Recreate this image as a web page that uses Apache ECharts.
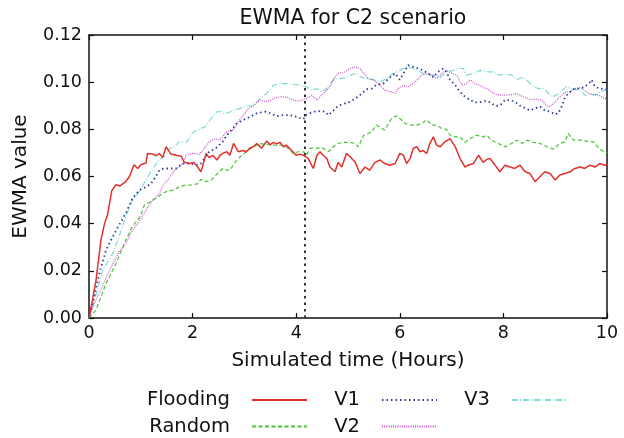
<!DOCTYPE html>
<html>
<head>
<meta charset="utf-8">
<script src="https://cdn.jsdelivr.net/npm/echarts@6/dist/echarts.min.js"></script>
<style>html,body{margin:0;padding:0;background:#fff}#c{width:624px;height:438px}</style>
</head>
<body>
<div id="c"></div>
<script>
const titleText = 'EWMA for C2 scenario';
const xName = 'Simulated time (Hours)';
const yName = 'EWMA value';
const seriesNames = ['Flooding', 'Random', 'V1', 'V2', 'V3'];
const markerTime = 4.17;

const flooding = [[0,0],[0.07,0.008],[0.135,0.016],[0.23,0.033],[0.3,0.040],[0.36,0.044],[0.44,0.054],[0.52,0.0565],[0.6,0.056],[0.71,0.0578],[0.78,0.060],[0.87,0.065],[0.94,0.0634],[1.0,0.065],[1.1,0.0657],[1.13,0.0698],[1.23,0.0695],[1.3,0.0688],[1.36,0.0698],[1.42,0.068],[1.49,0.0726],[1.58,0.0695],[1.68,0.069],[1.78,0.0686],[1.84,0.066],[1.94,0.0655],[2.02,0.066],[2.1,0.064],[2.16,0.062],[2.19,0.064],[2.26,0.0698],[2.32,0.068],[2.39,0.069],[2.47,0.067],[2.53,0.069],[2.58,0.0698],[2.66,0.0705],[2.72,0.069],[2.79,0.074],[2.88,0.0705],[2.98,0.071],[3.04,0.0705],[3.1,0.072],[3.17,0.0726],[3.24,0.074],[3.33,0.072],[3.43,0.075],[3.5,0.0735],[3.56,0.0745],[3.62,0.0738],[3.69,0.0745],[3.75,0.0726],[3.81,0.0733],[3.91,0.071],[4.0,0.069],[4.07,0.0695],[4.14,0.069],[4.23,0.0677],[4.33,0.0634],[4.40,0.069],[4.46,0.0705],[4.52,0.069],[4.59,0.0677],[4.65,0.064],[4.75,0.062],[4.81,0.066],[4.88,0.064],[4.97,0.0698],[5.04,0.0684],[5.14,0.066],[5.23,0.0613],[5.33,0.064],[5.42,0.0627],[5.52,0.066],[5.62,0.067],[5.71,0.0655],[5.81,0.0648],[5.91,0.0655],[6.0,0.0698],[6.07,0.069],[6.13,0.0655],[6.2,0.0677],[6.26,0.072],[6.33,0.0726],[6.39,0.0705],[6.45,0.071],[6.52,0.0698],[6.58,0.074],[6.65,0.0768],[6.71,0.0733],[6.78,0.0726],[6.87,0.0747],[6.97,0.0761],[7.07,0.0726],[7.16,0.0677],[7.26,0.064],[7.32,0.0648],[7.42,0.0655],[7.52,0.069],[7.61,0.066],[7.68,0.0672],[7.74,0.0677],[7.84,0.0648],[7.93,0.062],[8.03,0.0648],[8.13,0.064],[8.22,0.0634],[8.32,0.0648],[8.42,0.062],[8.51,0.0613],[8.61,0.0578],[8.71,0.060],[8.80,0.062],[8.9,0.0613],[9.0,0.0585],[9.09,0.0606],[9.19,0.0613],[9.29,0.062],[9.38,0.0634],[9.48,0.064],[9.57,0.0634],[9.67,0.0648],[9.77,0.064],[9.86,0.0655],[9.96,0.0648],[10,0.065]];

const random = [[0,0],[0.135,0.0034],[0.33,0.0147],[0.52,0.023],[0.71,0.033],[0.84,0.039],[0.94,0.0415],[1.0,0.0436],[1.07,0.048],[1.16,0.049],[1.29,0.0507],[1.42,0.0528],[1.49,0.0536],[1.62,0.0542],[1.74,0.0556],[1.87,0.0564],[2.0,0.0564],[2.1,0.057],[2.16,0.0588],[2.26,0.0578],[2.36,0.0585],[2.45,0.0606],[2.58,0.0634],[2.65,0.0627],[2.72,0.0627],[2.82,0.066],[2.92,0.0684],[3.04,0.0705],[3.17,0.0726],[3.3,0.074],[3.43,0.0735],[3.59,0.0733],[3.72,0.0733],[3.85,0.072],[3.94,0.0698],[4.04,0.0705],[4.14,0.0705],[4.2,0.069],[4.27,0.072],[4.4,0.072],[4.52,0.072],[4.62,0.0705],[4.72,0.0726],[4.81,0.074],[4.91,0.0745],[5.04,0.0745],[5.14,0.074],[5.2,0.0726],[5.3,0.0775],[5.39,0.0782],[5.46,0.079],[5.55,0.0818],[5.65,0.0804],[5.71,0.0797],[5.84,0.0846],[5.94,0.0857],[6.0,0.0846],[6.1,0.0825],[6.2,0.0818],[6.33,0.0818],[6.42,0.0825],[6.52,0.084],[6.62,0.0818],[6.71,0.0818],[6.81,0.0804],[6.9,0.080],[6.97,0.0775],[7.07,0.0768],[7.16,0.0768],[7.26,0.0745],[7.36,0.0761],[7.48,0.0775],[7.61,0.0768],[7.68,0.0775],[7.77,0.0754],[7.9,0.074],[8.03,0.0726],[8.16,0.074],[8.26,0.0754],[8.36,0.074],[8.45,0.0754],[8.58,0.0745],[8.71,0.074],[8.84,0.0726],[8.97,0.0716],[9.09,0.074],[9.19,0.0747],[9.25,0.0782],[9.35,0.0754],[9.48,0.0754],[9.61,0.075],[9.74,0.0747],[9.84,0.072],[9.96,0.0702],[10,0.070]];

const v1 = [[0,0],[0.1,0.009],[0.2,0.019],[0.33,0.0288],[0.46,0.0345],[0.58,0.0394],[0.71,0.0444],[0.84,0.0507],[0.97,0.0542],[1.1,0.0556],[1.2,0.057],[1.29,0.060],[1.36,0.0627],[1.45,0.0634],[1.55,0.0634],[1.68,0.0634],[1.81,0.0655],[1.94,0.0655],[2.07,0.0648],[2.16,0.0655],[2.23,0.0677],[2.32,0.0705],[2.45,0.072],[2.58,0.0747],[2.66,0.0775],[2.75,0.0797],[2.85,0.0825],[2.98,0.084],[3.11,0.0853],[3.24,0.0868],[3.4,0.0875],[3.5,0.0868],[3.62,0.0856],[3.75,0.086],[3.88,0.086],[4.01,0.0853],[4.14,0.0843],[4.2,0.0863],[4.33,0.0875],[4.46,0.0877],[4.56,0.0875],[4.62,0.086],[4.72,0.088],[4.81,0.090],[4.94,0.091],[5.04,0.0917],[5.14,0.093],[5.23,0.0945],[5.36,0.097],[5.46,0.0973],[5.55,0.099],[5.68,0.0994],[5.81,0.102],[5.91,0.1037],[6.0,0.101],[6.07,0.1037],[6.16,0.1072],[6.26,0.1065],[6.36,0.1058],[6.45,0.105],[6.55,0.1037],[6.65,0.102],[6.74,0.1044],[6.84,0.1058],[6.9,0.1044],[6.97,0.101],[7.07,0.0987],[7.16,0.0959],[7.26,0.0938],[7.36,0.0924],[7.45,0.0914],[7.55,0.0915],[7.64,0.092],[7.74,0.0915],[7.84,0.090],[7.93,0.090],[8.03,0.0924],[8.13,0.0924],[8.22,0.0917],[8.32,0.090],[8.42,0.089],[8.51,0.088],[8.61,0.0889],[8.71,0.0896],[8.8,0.088],[8.9,0.0875],[9.0,0.0863],[9.06,0.0868],[9.13,0.090],[9.19,0.0938],[9.29,0.0959],[9.38,0.0973],[9.48,0.0973],[9.57,0.098],[9.67,0.100],[9.7,0.101],[9.77,0.098],[9.86,0.0973],[9.96,0.097],[10,0.0968]];

const v2 = [[0,0],[0.1,0.006],[0.25,0.013],[0.35,0.018],[0.46,0.023],[0.58,0.028],[0.71,0.0316],[0.84,0.0373],[0.97,0.0408],[1.1,0.0458],[1.23,0.050],[1.36,0.0528],[1.45,0.057],[1.55,0.0592],[1.65,0.0627],[1.81,0.0655],[1.87,0.069],[2.0,0.0698],[2.13,0.0695],[2.23,0.072],[2.32,0.0747],[2.45,0.076],[2.53,0.0756],[2.66,0.079],[2.79,0.0797],[2.88,0.0832],[2.98,0.086],[3.08,0.0889],[3.17,0.090],[3.3,0.0924],[3.43,0.0917],[3.56,0.093],[3.69,0.0938],[3.81,0.0938],[3.94,0.0924],[4.07,0.092],[4.2,0.093],[4.3,0.0945],[4.4,0.0924],[4.49,0.0945],[4.59,0.0966],[4.65,0.098],[4.72,0.1015],[4.81,0.1037],[4.94,0.1044],[5.04,0.1058],[5.14,0.1065],[5.23,0.1058],[5.33,0.103],[5.39,0.1015],[5.49,0.101],[5.62,0.0987],[5.71,0.0966],[5.84,0.0959],[5.91,0.0952],[5.97,0.0973],[6.07,0.0987],[6.16,0.098],[6.26,0.0994],[6.36,0.1015],[6.42,0.103],[6.52,0.1037],[6.62,0.103],[6.71,0.1015],[6.81,0.1037],[6.9,0.105],[7.0,0.1037],[7.1,0.103],[7.2,0.0987],[7.29,0.0994],[7.36,0.101],[7.45,0.0994],[7.55,0.0985],[7.64,0.0975],[7.68,0.0973],[7.81,0.0952],[7.93,0.0945],[8.06,0.0945],[8.19,0.0948],[8.26,0.0952],[8.39,0.0938],[8.51,0.0927],[8.64,0.0927],[8.74,0.0924],[8.84,0.090],[8.9,0.0896],[9.0,0.0917],[9.09,0.0938],[9.19,0.0956],[9.29,0.096],[9.38,0.0973],[9.48,0.0976],[9.57,0.0966],[9.64,0.0952],[9.74,0.0948],[9.84,0.0945],[9.96,0.093],[10,0.093]];

const v3 = [[0,0],[0.1,0.007],[0.26,0.020],[0.46,0.0274],[0.58,0.0345],[0.71,0.043],[0.84,0.050],[0.97,0.0536],[1.1,0.0585],[1.23,0.0634],[1.36,0.0672],[1.49,0.069],[1.56,0.072],[1.62,0.072],[1.74,0.0747],[1.89,0.0747],[1.98,0.078],[2.08,0.0797],[2.24,0.081],[2.34,0.084],[2.47,0.0875],[2.53,0.0875],[2.59,0.0868],[2.66,0.0868],[2.79,0.088],[2.92,0.0889],[3.04,0.090],[3.17,0.090],[3.3,0.093],[3.43,0.0952],[3.56,0.0987],[3.69,0.0994],[3.81,0.0994],[3.98,0.099],[4.1,0.0987],[4.2,0.098],[4.3,0.0966],[4.4,0.0973],[4.49,0.0959],[4.59,0.0973],[4.68,0.100],[4.75,0.1015],[4.85,0.1015],[4.97,0.102],[5.04,0.103],[5.17,0.1037],[5.26,0.102],[5.36,0.1015],[5.49,0.101],[5.62,0.100],[5.74,0.1015],[5.87,0.1037],[6.0,0.105],[6.13,0.1065],[6.26,0.1058],[6.39,0.1044],[6.52,0.103],[6.65,0.103],[6.78,0.102],[6.9,0.1044],[7.03,0.105],[7.13,0.1058],[7.23,0.1058],[7.29,0.103],[7.42,0.1037],[7.55,0.105],[7.68,0.1044],[7.81,0.1044],[7.9,0.103],[8.03,0.1033],[8.16,0.103],[8.26,0.101],[8.36,0.102],[8.45,0.101],[8.58,0.098],[8.68,0.0973],[8.78,0.0973],[8.87,0.0952],[8.94,0.0938],[9.03,0.0945],[9.13,0.0966],[9.22,0.098],[9.32,0.0973],[9.42,0.0966],[9.51,0.0959],[9.57,0.0945],[9.67,0.0948],[9.77,0.0945],[9.86,0.0959],[9.96,0.0966],[10,0.097]];

const FONT = 'DejaVu Sans';
const chart = echarts.init(document.getElementById('c'), null, {renderer: 'canvas'});

function lineSeries(name, data, color, width, type, z) {
  return {
    name: name, type: 'line', data: data, symbol: 'none', showSymbol: false,
    xAxisIndex: 0, yAxisIndex: 0, z: z, animation: false,
    lineStyle: {color: color, width: width, type: type},
    itemStyle: {color: color}
  };
}

const axisCommon = {
  axisLine: {show: true, onZero: false, lineStyle: {color: '#111', width: 1.5}},
  axisTick: {show: true, inside: true, length: 5, lineStyle: {color: '#111', width: 1.2}},
  splitLine: {show: false}
};

const series = [
  lineSeries('V3', v3, '#7fd9d5', 1.2, [6, 2, 1, 2], 1),
  lineSeries('V2', v2, '#c64cc8', 1.2, [1, 1.2], 2),
  lineSeries('V1', v1, '#2c3c9c', 1.8, [1.5, 3], 3),
  lineSeries('Random', random, '#4ec23a', 1.2, [4, 2.5], 4),
  lineSeries('Flooding', flooding, '#e2302a', 1.5, 'solid', 5)
];
series[4].markLine = {
  silent: true, symbol: 'none', animation: false,
  label: {show: false},
  lineStyle: {color: '#333', width: 2, type: [2.5, 4]},
  data: [{xAxis: markerTime}]
};

const legendCommon = {
  orient: 'vertical', align: 'right', itemWidth: 55, itemHeight: 12, itemGap: 6.5,
  height: 90, padding: 0, top: 390,
  itemStyle: {opacity: 0},
  textStyle: {fontFamily: FONT, fontSize: 19.5, color: '#111', padding: [0, 17, 0, 0]}
};

chart.setOption({
  animation: false,
  backgroundColor: '#fff',
  title: {
    text: titleText, left: 348, top: 3, textAlign: 'center',
    textStyle: {fontFamily: FONT, fontSize: 20.5, fontWeight: 'normal', color: '#111'}
  },
  grid: {left: 89, right: 17, top: 35, bottom: 120, containLabel: false},
  xAxis: [
    Object.assign({}, axisCommon, {
      type: 'value', min: 0, max: 10, interval: 2, position: 'bottom',
      name: xName, nameLocation: 'middle', nameGap: 33,
      nameTextStyle: {fontFamily: FONT, fontSize: 20, color: '#111'},
      axisLabel: {fontFamily: FONT, fontSize: 17.5, color: '#111', margin: 6}
    }),
    Object.assign({}, axisCommon, {
      type: 'value', min: 0, max: 10, interval: 2, position: 'top',
      axisLabel: {show: false}
    })
  ],
  yAxis: [
    Object.assign({}, axisCommon, {
      type: 'value', min: 0, max: 0.12, interval: 0.02, position: 'left',
      name: yName, nameLocation: 'middle', nameGap: 58,
      nameTextStyle: {fontFamily: FONT, fontSize: 20, color: '#111'},
      axisLabel: {fontFamily: FONT, fontSize: 17.5, color: '#111', margin: 7,
        formatter: function (v) { return v.toFixed(2); }}
    }),
    Object.assign({}, axisCommon, {
      type: 'value', min: 0, max: 0.12, interval: 0.02, position: 'right',
      axisLabel: {show: false}
    })
  ],
  legend: [
    Object.assign({}, legendCommon, {data: ['Flooding', 'Random'], right: 316}),
    Object.assign({}, legendCommon, {data: ['V1', 'V2'], right: 186}),
    Object.assign({}, legendCommon, {data: ['V3'], right: 56})
  ],
  series: series
});
</script>
</body>
</html>
